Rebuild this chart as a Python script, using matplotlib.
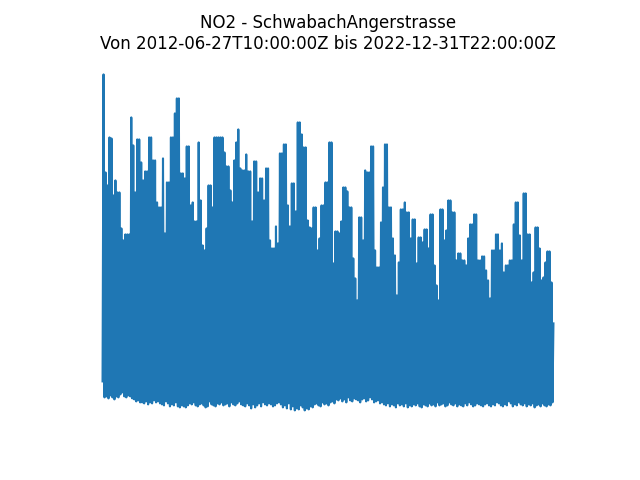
import matplotlib
matplotlib.use("Agg")
import matplotlib.pyplot as plt
import numpy as np
import pandas as pd

station = "SchwabachAngerstrasse"
pollutant = "NO2"
start = "2012-06-27T10:00:00Z"
end = "2022-12-31T22:00:00Z"

# Approximate local maxima of the hourly series
peaks = [
    337, 239, 226, 274, 273, 216, 231, 219, 219, 183,
    171, 177, 177, 177, 294, 266, 219, 272, 272, 249,
    231, 240, 240, 274, 274, 251, 251, 209, 204, 204,
    253, 178, 229, 229, 274, 274, 298, 313, 313, 238,
    238, 233, 265, 265, 206, 209, 190, 190, 269, 211,
    166, 161, 183, 226, 226, 204, 274, 274, 274, 274,
    274, 259, 245, 245, 221, 209, 251, 269, 282, 243,
    241, 241, 257, 240, 240, 190, 250, 250, 219, 233,
    233, 211, 243, 243, 171, 163, 163, 185, 168, 258,
    258, 267, 267, 206, 185, 228, 228, 200, 289, 289,
    277, 264, 264, 191, 184, 183, 204, 204, 161, 173,
    206, 206, 229, 229, 269, 269, 148, 180, 180, 178,
    190, 224, 224, 220, 204, 204, 153, 133, 111, 194,
    194, 171, 241, 239, 239, 265, 265, 161, 144, 144,
    189, 224, 267, 267, 204, 204, 173, 156, 116, 149,
    202, 202, 209, 199, 199, 173, 192, 192, 148, 174,
    174, 169, 182, 182, 163, 197, 197, 146, 126, 111,
    202, 202, 171, 181, 211, 211, 199, 199, 151, 158,
    158, 151, 151, 146, 173, 187, 187, 197, 197, 151,
    151, 155, 155, 141, 131, 113, 161, 161, 177, 177,
    161, 168, 139, 146, 146, 151, 151, 187, 209, 209,
    176, 151, 218, 218, 177, 177, 129, 139, 184, 184,
    163, 131, 134, 149, 160, 160, 129, 88,
]

# Approximate local minima of the hourly series
troughs = [
    30, 14, 15, 13, 16, 14, 12, 15, 14, 17,
    19, 15, 14, 16, 15, 13, 12, 10, 11, 9,
    9, 8, 10, 7, 9, 8, 11, 9, 10, 8,
    7, 6, 10, 8, 5, 7, 6, 9, 5, 4,
    6, 5, 4, 6, 8, 7, 9, 6, 5, 7,
    8, 6, 4, 5, 10, 7, 6, 5, 8, 7,
    9, 6, 7, 8, 5, 9, 7, 6, 8, 10,
    7, 6, 5, 8, 6, 3, 7, 4, 6, 8,
    5, 9, 7, 6, 8, 7, 5, 6, 8, 9,
    7, 4, 6, 3, 8, 2, 5, 1, 3, 2,
    6, 4, 1, 3, 2, 5, 4, 7, 8, 6,
    5, 9, 7, 8, 6, 9, 10, 8, 12, 11,
    13, 10, 12, 9, 14, 11, 10, 13, 12, 11,
    9, 12, 13, 10, 11, 14, 12, 9, 10, 11,
    8, 9, 7, 6, 8, 5, 7, 6, 4, 8,
    6, 7, 5, 8, 4, 6, 5, 7, 6, 8,
    5, 4, 7, 6, 5, 8, 6, 7, 5, 9,
    6, 7, 8, 5, 6, 9, 7, 6, 8, 5,
    7, 6, 5, 8, 6, 9, 7, 5, 6, 8,
    7, 6, 5, 7, 8, 6, 5, 7, 6, 9,
    8, 6, 5, 7, 6, 10, 8, 5, 7, 6,
    9, 7, 6, 8, 5, 7, 6, 8, 4, 6,
    7, 5, 8, 6, 5, 7, 6, 9,
]

n = min(len(peaks), len(troughs))
values = []
for p, t in zip(peaks[:n], troughs[:n]):
    values.append(t)
    values.append(p)
times = pd.date_range(start.replace("Z", ""), end.replace("Z", ""), periods=len(values))
series = pd.Series(values, index=times)

fig, ax = plt.subplots(figsize=(6.4, 4.8), dpi=100)
ax.plot(series.index, series.values, color="#1f77b4", linewidth=1.5)
ax.set_title(f"{pollutant} - {station}\nVon {start} bis {end}")
ax.axis("off")
fig.savefig("out.png", dpi=100)
